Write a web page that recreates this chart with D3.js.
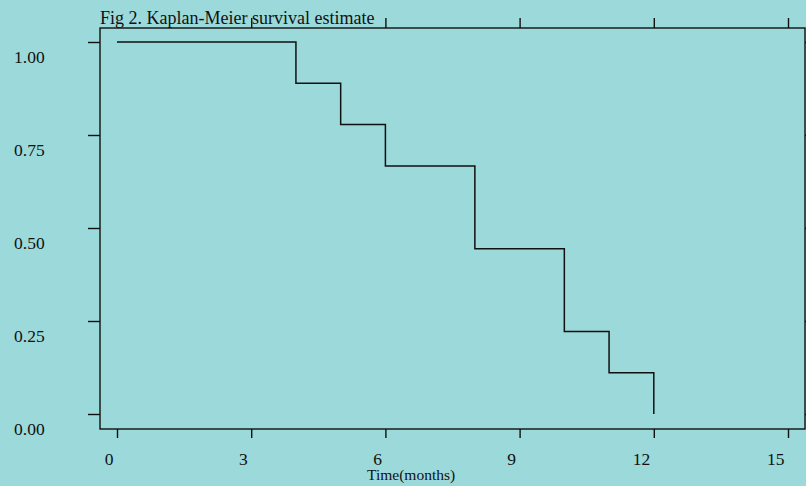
<!DOCTYPE html>
<html>
<head>
<meta charset="utf-8">
<script src="https://cdn.jsdelivr.net/npm/d3@7"></script>
<style>
  body { margin: 0; background: #9bd9da; }
  svg { display: block; }
</style>
</head>
<body>
<svg id="chart"></svg>
<script>
// Kaplan-Meier step data
const times = [0, 4, 5, 6, 8, 10, 11, 12];
const survival = [1.0, 0.889, 0.778, 0.667, 0.444, 0.222, 0.111, 0.0];
const xTicks = [0, 3, 6, 9, 12, 15];
const yTicks = [0, 0.25, 0.5, 0.75, 1.0];
const yTickLabels = ["0.00", "0.25", "0.50", "0.75", "1.00"];

const width = 806;
const height = 486;
const box = { left: 100, top: 28, right: 805, bottom: 429 };
const ink = "#111";

const svg = d3.select("#chart").attr("width", width).attr("height", height);

svg.append("rect")
  .attr("width", width).attr("height", height)
  .attr("fill", "#9bd9da");

const x = d3.scaleLinear().domain([0, 15]).range([117, 788]);
const y = d3.scaleLinear().domain([0, 1]).range([414, 42]);

// frame
svg.append("rect")
  .attr("x", box.left).attr("y", box.top)
  .attr("width", box.right - box.left).attr("height", box.bottom - box.top)
  .attr("fill", "none").attr("stroke", ink).attr("stroke-width", 1.4);

const font = "'Liberation Serif', 'Times New Roman', serif";

// bottom axis
const gx = svg.append("g")
  .attr("transform", `translate(0,${box.bottom})`)
  .call(d3.axisBottom(x).tickValues(xTicks).tickSize(9).tickFormat(d3.format("d")));
gx.select(".domain").remove();
gx.selectAll("line").attr("stroke", ink).attr("stroke-width", 1.4);
gx.selectAll("text")
  .attr("font-family", font).attr("font-size", 17.5).attr("fill", ink)
  .attr("text-anchor", "end").attr("x", -4).attr("y", 36).attr("dy", null);

// top axis (ticks only)
const gt = svg.append("g")
  .attr("transform", `translate(0,${box.top})`)
  .call(d3.axisTop(x).tickValues(xTicks.slice(1)).tickSize(10).tickFormat(""));
gt.select(".domain").remove();
gt.selectAll("line").attr("stroke", ink).attr("stroke-width", 1.4);

// left axis
const gy = svg.append("g")
  .attr("transform", `translate(${box.left},0)`)
  .call(d3.axisLeft(y).tickValues(yTicks).tickSize(12)
    .tickFormat((d, i) => yTickLabels[i]));
gy.select(".domain").remove();
gy.selectAll("line").attr("stroke", ink).attr("stroke-width", 1.4);
gy.selectAll("text")
  .attr("font-family", font).attr("font-size", 17.5).attr("fill", ink)
  .attr("text-anchor", "start").attr("x", 14 - box.left).attr("y", 20).attr("dy", null);

// right axis (ticks only, outward)
const gr = svg.append("g")
  .attr("transform", `translate(${box.right},0)`)
  .call(d3.axisRight(y).tickValues(yTicks).tickSize(10).tickFormat(""));
gr.select(".domain").remove();
gr.selectAll("line").attr("stroke", ink).attr("stroke-width", 1.4);

// survival curve
const line = d3.line()
  .x((d) => x(d[0]))
  .y((d) => y(d[1]))
  .curve(d3.curveStepAfter);

svg.append("path")
  .datum(times.map((t, i) => [t, survival[i]]))
  .attr("d", line)
  .attr("fill", "none")
  .attr("stroke", ink)
  .attr("stroke-width", 1.5);

// title
svg.append("text")
  .attr("x", 100).attr("y", 24)
  .attr("font-family", font).attr("font-size", 18).attr("fill", ink)
  .text("Fig 2. Kaplan-Meier survival estimate");

// x label
svg.append("text")
  .attr("x", 367).attr("y", 480)
  .attr("font-family", font).attr("font-size", 15.5).attr("fill", ink)
  .text("Time(months)");
</script>
</body>
</html>
